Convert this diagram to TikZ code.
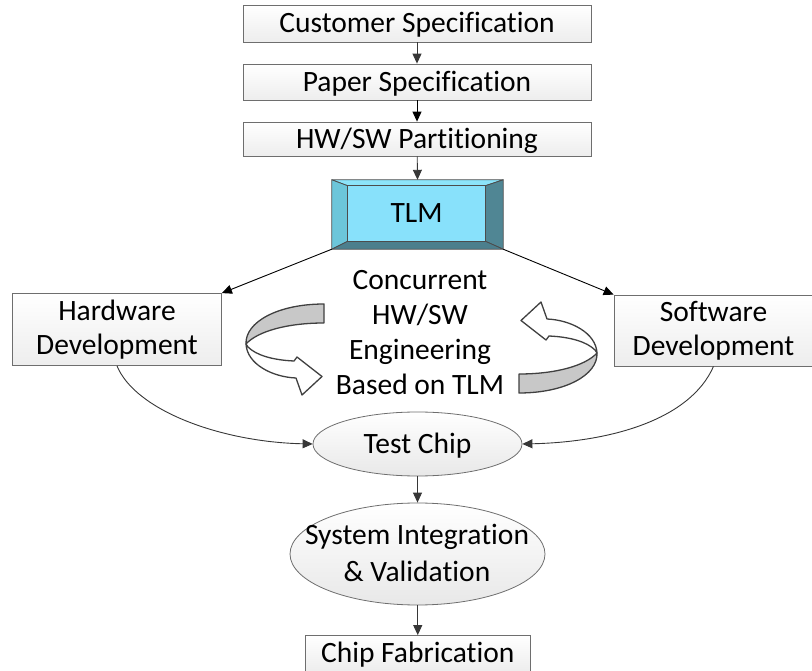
\documentclass[tikz,border=0pt]{standalone}
\usepackage{fontspec}
\setmainfont[Ligatures=NoCommon]{Carlito}
\usetikzlibrary{arrows.meta,shapes.geometric,calc}
\definecolor{boxline}{RGB}{110,110,110}
\definecolor{conn}{RGB}{55,55,55}
\definecolor{tlmin}{RGB}{136,225,251}
\definecolor{tlmtop}{RGB}{140,228,250}
\definecolor{tlmleft}{RGB}{108,198,218}
\definecolor{tlmdark}{RGB}{80,134,148}
\definecolor{bandgray}{RGB}{200,200,200}
\tikzset{
  x=1pt, y=-1pt,
  every node/.style={font=\fontsize{29.5}{35}\selectfont, inner sep=0pt},
  capc/.style={text height=18.6pt, text depth=0pt},
  pbox/.style={draw=boxline, line width=0.8pt, top color=white, bottom color=gray!14, shading angle=0},
  pell/.style={ellipse, draw=boxline, line width=0.8pt, top color=white, bottom color=gray!18},
  conn/.style={draw=conn, line width=0.9pt, -{Triangle[length=10pt,width=9pt]}},
  band/.style={draw=black!75, line width=1.3pt, line join=round},
}
\begin{document}
\begin{tikzpicture}
\useasboundingbox (0,0) rectangle (812,671);

% top boxes
\node[pbox, capc, minimum width=348, minimum height=37] (cust) at (417,23.5) {Customer Specification};
\node[pbox, capc, minimum width=348, minimum height=36] (paper) at (417,82) {Paper Specification};
\node[pbox, capc, minimum width=348, minimum height=34] (part) at (417,139) {HW/SW Partitioning};

% TLM bevel box
\node[minimum width=171, minimum height=69] (tlm) at (417.5,214.5) {};
\coordinate (inw) at ($(tlm.north west)+(16,6)$);
\coordinate (ine) at ($(tlm.north east)+(-18,6)$);
\coordinate (isw) at ($(tlm.south west)+(16,-8)$);
\coordinate (ise) at ($(tlm.south east)+(-18,-8)$);
\begin{scope}[draw=black!70, line width=0.8pt, line join=round]
\filldraw[fill=tlmtop] (tlm.north west) -- (tlm.north east) -- (ine) -- (inw) -- cycle;
\filldraw[fill=tlmleft] (tlm.north west) -- (inw) -- (isw) -- (tlm.south west) -- cycle;
\filldraw[fill=tlmdark] (tlm.north east) -- (tlm.south east) -- (ise) -- (ine) -- cycle;
\filldraw[fill=tlmdark!95!black] (tlm.south west) -- (isw) -- (ise) -- (tlm.south east) -- cycle;
\filldraw[fill=tlmin] (inw) -- (ine) -- (ise) -- (isw) -- cycle;
\end{scope}
\node[capc] (tlmtext) at ($(inw)!0.5!(ise)$) {TLM};

% side boxes
\node[pbox, minimum width=209, minimum height=72, align=center, font=\fontsize{29.5}{34}\selectfont] (hw) at (117,329.5) {Hardware\\Development};
\node[pbox, minimum width=199, minimum height=71, align=center, font=\fontsize{29.5}{34}\selectfont] (sw) at (713.5,330.5) {Software\\Development};

% centre text
\node[align=center] (conc) at (420,333) {Concurrent\\HW/SW\\Engineering\\Based on TLM};

% circular arrows
\newcommand{\cyclearrow}{%
  \filldraw[band, fill=white] (246,344) .. controls (247,364) and (272,377) .. (296,378)
     -- (302,395) -- (322,376.5) -- (297,357) -- (294,361)
     .. controls (272,360) and (256,355) .. (248,347) -- cycle;
  \filldraw[band, fill=bandgray] (324,304) .. controls (278,304) and (245,322) .. (246,344)
     .. controls (258,331) and (288,323) .. (324,323) -- cycle;
}
\cyclearrow
\begin{scope}[shift={(559.5,348)}, rotate=180, shift={(-283.5,-349)}]
\cyclearrow
\end{scope}

% ellipses
\node[pell, capc, minimum width=209, minimum height=64] (test) at (417.5,444) {Test Chip};
\node[pell, minimum width=255, minimum height=102] (sys) at (417.5,554) {};
\node[align=center, font=\fontsize{29.5}{36.5}\selectfont] (systext) at (417,553) {System Integration\\\& Validation};

% bottom box
\node[pbox, capc, minimum width=225, minimum height=35.5] (fab) at (417.75,653.25) {Chip Fabrication};

% connectors
\draw[conn] (cust) -- (paper);
\draw[conn, draw=black] (paper) -- (part);
\draw[conn] (part) -- (tlm.north);
\draw[conn, draw=black] (tlm.south west) -- (hw.north east);
\draw[conn, draw=black] (tlm.south east) -- (sw.north west);
\draw[conn] (hw.south) .. controls (135,410) and (220,442) .. (test.west);
\draw[conn] (sw.south) .. controls (690,420) and (610,442) .. (test.east);
\draw[conn] (test.south) -- (test.south |- sys.north);
\draw[conn] (fab.north |- sys.south) -- (fab.north);
\end{tikzpicture}
\end{document}
